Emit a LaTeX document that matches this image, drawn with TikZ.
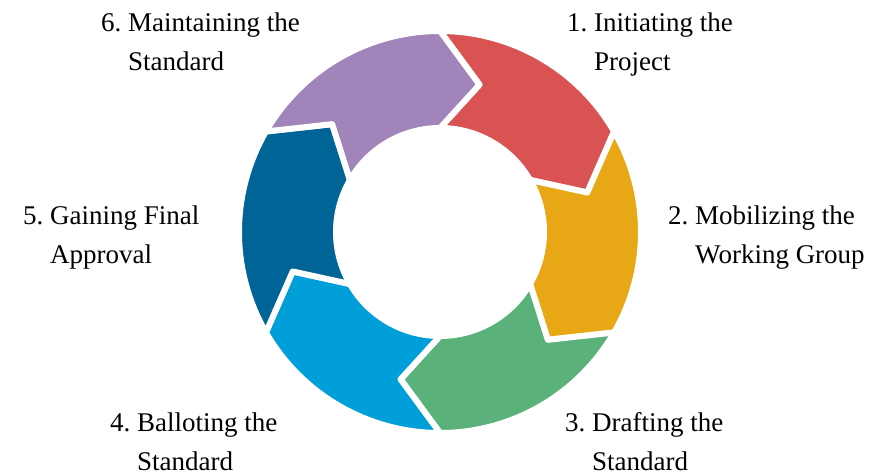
\documentclass[tikz,border=0pt]{standalone}
\usepackage{tikz}
\usepackage{fontspec}
\setmainfont{Liberation Serif}
\usetikzlibrary{calc,
	positioning}
\definecolor{segred}{RGB}{217,83,82}
\definecolor{segyellow}{RGB}{232,168,22}
\definecolor{seggreen}{RGB}{90,178,122}
\definecolor{seglightblue}{RGB}{0,159,217}
\definecolor{segdarkblue}{RGB}{0,101,150}
\definecolor{segpurple}{RGB}{160,132,186}
\def\rout{201pt}
\def\rin{104pt}
\def\rmid{152.5pt}

\begin{document}
\begin{tikzpicture}[x=1pt, y=1pt,
	segment/.style={draw=white, line width=6pt, line join=round},
	lbl/.style={anchor=base west, inner sep=0pt, font=\fontsize{27}{39}\selectfont}]
	\useasboundingbox (0, 0) rectangle (892, 476);
	\begin{scope}[shift={(440, 244)}]
		\foreach \idx/\col in {1/segred,2/segyellow,3/seggreen,4/seglightblue,5/segdarkblue,6/segpurple} {
			\pgfmathsetmacro{\tailangle}{150-60*\idx}
			\pgfmathsetmacro{\headangle}{\tailangle-60}
			\pgfmathsetmacro{\tipangle}{\headangle-15}
			\pgfmathsetmacro{\notchangle}{\tailangle-15}
			\draw[segment, fill=\col] (\tailangle:\rout) arc[start angle=\tailangle, end angle=\headangle, radius=\rout]
				-- (\tipangle:\rmid) -- (\headangle:\rin)
				arc[start angle=\headangle, end angle=\tailangle, radius=\rin]
				-- (\notchangle:\rmid) -- cycle;
		}
	\end{scope}
	% step labels
	\node[lbl] (lbl1) at (567, 444) {\begin{tabular}[t]{@{}l@{\ }l@{}}1. & Initiating the\\ & Project\end{tabular}};
	\node[lbl] (lbl2) at (668, 251) {\begin{tabular}[t]{@{}l@{\ }l@{}}2. & Mobilizing the\\ & Working Group\end{tabular}};
	\node[lbl] (lbl3) at (565, 44) {\begin{tabular}[t]{@{}l@{\ }l@{}}3. & Drafting the\\ & Standard\end{tabular}};
	\node[lbl] (lbl4) at (110, 44) {\begin{tabular}[t]{@{}l@{\ }l@{}}4. & Balloting the\\ & Standard\end{tabular}};
	\node[lbl] (lbl5) at (23, 251) {\begin{tabular}[t]{@{}l@{\ }l@{}}5. & Gaining Final\\ & Approval\end{tabular}};
	\node[lbl] (lbl6) at (101, 444) {\begin{tabular}[t]{@{}l@{\ }l@{}}6. & Maintaining the\\ & Standard\end{tabular}};
\end{tikzpicture}
\end{document}
